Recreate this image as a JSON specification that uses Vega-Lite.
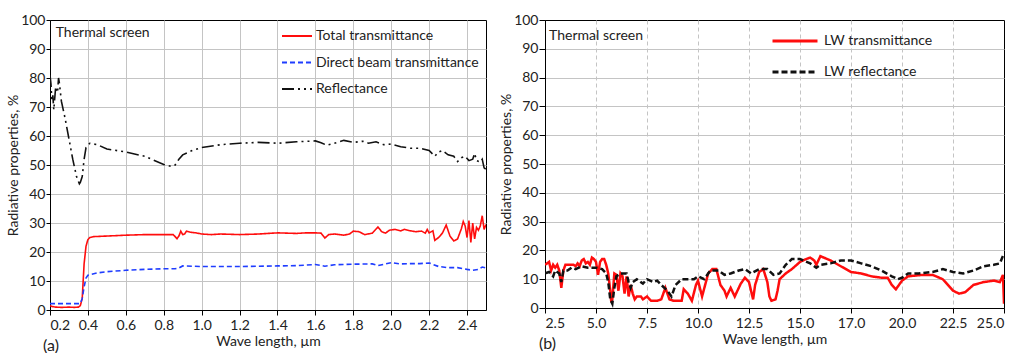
{
"$schema": "https://vega.github.io/schema/vega-lite/v6.json",
"background": "white",
"padding": {"left": 6, "top": 12, "right": 0, "bottom": 0},
"spacing": 12,
"resolve": {"scale": {"color": "independent", "strokeDash": "independent"}, "legend": {"color": "independent", "strokeDash": "independent"}},
"config": {
  "font": "Lato",
  "view": {"stroke": "black", "strokeWidth": 1},
  "axis": {"labelFont": "Lato", "labelFontSize": 14, "labelColor": "#222", "titleFont": "Lato", "titleFontSize": 14, "titleFontWeight": "normal", "titleColor": "#222", "domainColor": "black", "tickColor": "black", "tickSize": 4, "gridColor": "#c4c4c4", "gridWidth": 1, "labelPadding": 3, "tickCount": 30},
  "title": {"font": "Lato", "fontSize": 16, "fontWeight": "normal", "color": "#222"}
},
"datasets": {
 "vis": [
  {"wl":0.2,"pct":1.5,"series":"Total transmittance"},{"wl":0.21,"pct":1.2,"series":"Total transmittance"},{"wl":0.23,"pct":1.0,"series":"Total transmittance"},{"wl":0.26,"pct":0.9,"series":"Total transmittance"},{"wl":0.3,"pct":1.0,"series":"Total transmittance"},{"wl":0.33,"pct":0.9,"series":"Total transmittance"},{"wl":0.35,"pct":1.0,"series":"Total transmittance"},{"wl":0.36,"pct":1.5,"series":"Total transmittance"},{"wl":0.37,"pct":4,"series":"Total transmittance"},{"wl":0.375,"pct":10,"series":"Total transmittance"},{"wl":0.38,"pct":16,"series":"Total transmittance"},{"wl":0.39,"pct":22,"series":"Total transmittance"},{"wl":0.4,"pct":24.3,"series":"Total transmittance"},{"wl":0.41,"pct":25,"series":"Total transmittance"},{"wl":0.43,"pct":25.3,"series":"Total transmittance"},{"wl":0.5,"pct":25.5,"series":"Total transmittance"},{"wl":0.6,"pct":25.8,"series":"Total transmittance"},{"wl":0.7,"pct":26,"series":"Total transmittance"},{"wl":0.8,"pct":26,"series":"Total transmittance"},{"wl":0.85,"pct":26,"series":"Total transmittance"},{"wl":0.87,"pct":24.6,"series":"Total transmittance"},{"wl":0.88,"pct":25.5,"series":"Total transmittance"},{"wl":0.89,"pct":27.2,"series":"Total transmittance"},{"wl":0.9,"pct":26,"series":"Total transmittance"},{"wl":0.91,"pct":26.2,"series":"Total transmittance"},{"wl":0.92,"pct":27.2,"series":"Total transmittance"},{"wl":0.94,"pct":26.8,"series":"Total transmittance"},{"wl":0.97,"pct":26.6,"series":"Total transmittance"},{"wl":1.0,"pct":26.2,"series":"Total transmittance"},{"wl":1.05,"pct":26,"series":"Total transmittance"},{"wl":1.1,"pct":26.2,"series":"Total transmittance"},{"wl":1.2,"pct":26,"series":"Total transmittance"},{"wl":1.3,"pct":26.2,"series":"Total transmittance"},{"wl":1.4,"pct":26.6,"series":"Total transmittance"},{"wl":1.5,"pct":26.4,"series":"Total transmittance"},{"wl":1.55,"pct":26.6,"series":"Total transmittance"},{"wl":1.6,"pct":26.6,"series":"Total transmittance"},{"wl":1.63,"pct":26.5,"series":"Total transmittance"},{"wl":1.65,"pct":24.8,"series":"Total transmittance"},{"wl":1.67,"pct":26,"series":"Total transmittance"},{"wl":1.7,"pct":26.2,"series":"Total transmittance"},{"wl":1.75,"pct":25.8,"series":"Total transmittance"},{"wl":1.78,"pct":26.2,"series":"Total transmittance"},{"wl":1.8,"pct":27.2,"series":"Total transmittance"},{"wl":1.83,"pct":27,"series":"Total transmittance"},{"wl":1.86,"pct":26,"series":"Total transmittance"},{"wl":1.9,"pct":26.5,"series":"Total transmittance"},{"wl":1.93,"pct":28.6,"series":"Total transmittance"},{"wl":1.95,"pct":27,"series":"Total transmittance"},{"wl":1.97,"pct":26.5,"series":"Total transmittance"},{"wl":1.99,"pct":27.5,"series":"Total transmittance"},{"wl":2.02,"pct":27.8,"series":"Total transmittance"},{"wl":2.05,"pct":27.3,"series":"Total transmittance"},{"wl":2.07,"pct":27.8,"series":"Total transmittance"},{"wl":2.1,"pct":27.3,"series":"Total transmittance"},{"wl":2.13,"pct":27,"series":"Total transmittance"},{"wl":2.16,"pct":27.2,"series":"Total transmittance"},{"wl":2.18,"pct":26.5,"series":"Total transmittance"},{"wl":2.19,"pct":27.8,"series":"Total transmittance"},{"wl":2.2,"pct":26.6,"series":"Total transmittance"},{"wl":2.22,"pct":27.3,"series":"Total transmittance"},{"wl":2.23,"pct":24,"series":"Total transmittance"},{"wl":2.25,"pct":25,"series":"Total transmittance"},{"wl":2.27,"pct":26.5,"series":"Total transmittance"},{"wl":2.29,"pct":29.3,"series":"Total transmittance"},{"wl":2.31,"pct":25.5,"series":"Total transmittance"},{"wl":2.33,"pct":23.8,"series":"Total transmittance"},{"wl":2.35,"pct":24.5,"series":"Total transmittance"},{"wl":2.37,"pct":28,"series":"Total transmittance"},{"wl":2.38,"pct":30.5,"series":"Total transmittance"},{"wl":2.39,"pct":29,"series":"Total transmittance"},{"wl":2.4,"pct":25,"series":"Total transmittance"},{"wl":2.41,"pct":30.8,"series":"Total transmittance"},{"wl":2.42,"pct":23.3,"series":"Total transmittance"},{"wl":2.43,"pct":30,"series":"Total transmittance"},{"wl":2.44,"pct":24.5,"series":"Total transmittance"},{"wl":2.45,"pct":28.5,"series":"Total transmittance"},{"wl":2.46,"pct":27.5,"series":"Total transmittance"},{"wl":2.47,"pct":29,"series":"Total transmittance"},{"wl":2.48,"pct":32.5,"series":"Total transmittance"},{"wl":2.49,"pct":27.8,"series":"Total transmittance"},{"wl":2.5,"pct":29.5,"series":"Total transmittance"},
  {"wl":0.2,"pct":2.2,"series":"Direct beam transmittance"},{"wl":0.3,"pct":2.2,"series":"Direct beam transmittance"},{"wl":0.36,"pct":2.2,"series":"Direct beam transmittance"},{"wl":0.37,"pct":4,"series":"Direct beam transmittance"},{"wl":0.38,"pct":8,"series":"Direct beam transmittance"},{"wl":0.39,"pct":11,"series":"Direct beam transmittance"},{"wl":0.4,"pct":12,"series":"Direct beam transmittance"},{"wl":0.45,"pct":12.8,"series":"Direct beam transmittance"},{"wl":0.5,"pct":13.2,"series":"Direct beam transmittance"},{"wl":0.6,"pct":13.7,"series":"Direct beam transmittance"},{"wl":0.7,"pct":14,"series":"Direct beam transmittance"},{"wl":0.8,"pct":14.2,"series":"Direct beam transmittance"},{"wl":0.86,"pct":14.2,"series":"Direct beam transmittance"},{"wl":0.88,"pct":14.5,"series":"Direct beam transmittance"},{"wl":0.9,"pct":15.2,"series":"Direct beam transmittance"},{"wl":1.0,"pct":15,"series":"Direct beam transmittance"},{"wl":1.2,"pct":15,"series":"Direct beam transmittance"},{"wl":1.4,"pct":15.2,"series":"Direct beam transmittance"},{"wl":1.5,"pct":15.3,"series":"Direct beam transmittance"},{"wl":1.6,"pct":15.7,"series":"Direct beam transmittance"},{"wl":1.65,"pct":15.1,"series":"Direct beam transmittance"},{"wl":1.7,"pct":15.6,"series":"Direct beam transmittance"},{"wl":1.8,"pct":15.8,"series":"Direct beam transmittance"},{"wl":1.9,"pct":15.9,"series":"Direct beam transmittance"},{"wl":1.93,"pct":15.3,"series":"Direct beam transmittance"},{"wl":1.97,"pct":15.9,"series":"Direct beam transmittance"},{"wl":2.0,"pct":16.3,"series":"Direct beam transmittance"},{"wl":2.05,"pct":15.9,"series":"Direct beam transmittance"},{"wl":2.1,"pct":16,"series":"Direct beam transmittance"},{"wl":2.15,"pct":16,"series":"Direct beam transmittance"},{"wl":2.2,"pct":16.2,"series":"Direct beam transmittance"},{"wl":2.25,"pct":15,"series":"Direct beam transmittance"},{"wl":2.3,"pct":14.6,"series":"Direct beam transmittance"},{"wl":2.35,"pct":14.6,"series":"Direct beam transmittance"},{"wl":2.4,"pct":14,"series":"Direct beam transmittance"},{"wl":2.43,"pct":13.7,"series":"Direct beam transmittance"},{"wl":2.46,"pct":14,"series":"Direct beam transmittance"},{"wl":2.48,"pct":14.8,"series":"Direct beam transmittance"},{"wl":2.5,"pct":14.5,"series":"Direct beam transmittance"},
  {"wl":0.2,"pct":81,"series":"Reflectance"},{"wl":0.205,"pct":78,"series":"Reflectance"},{"wl":0.21,"pct":72,"series":"Reflectance"},{"wl":0.215,"pct":74,"series":"Reflectance"},{"wl":0.22,"pct":69,"series":"Reflectance"},{"wl":0.225,"pct":73,"series":"Reflectance"},{"wl":0.23,"pct":77,"series":"Reflectance"},{"wl":0.24,"pct":75,"series":"Reflectance"},{"wl":0.245,"pct":80,"series":"Reflectance"},{"wl":0.25,"pct":78,"series":"Reflectance"},{"wl":0.26,"pct":72,"series":"Reflectance"},{"wl":0.28,"pct":66,"series":"Reflectance"},{"wl":0.3,"pct":59,"series":"Reflectance"},{"wl":0.32,"pct":52,"series":"Reflectance"},{"wl":0.34,"pct":46,"series":"Reflectance"},{"wl":0.355,"pct":43.5,"series":"Reflectance"},{"wl":0.36,"pct":44,"series":"Reflectance"},{"wl":0.37,"pct":46,"series":"Reflectance"},{"wl":0.38,"pct":52,"series":"Reflectance"},{"wl":0.39,"pct":56,"series":"Reflectance"},{"wl":0.41,"pct":57.5,"series":"Reflectance"},{"wl":0.45,"pct":57,"series":"Reflectance"},{"wl":0.5,"pct":55.5,"series":"Reflectance"},{"wl":0.6,"pct":54.5,"series":"Reflectance"},{"wl":0.7,"pct":53,"series":"Reflectance"},{"wl":0.8,"pct":50.2,"series":"Reflectance"},{"wl":0.84,"pct":49.5,"series":"Reflectance"},{"wl":0.86,"pct":50,"series":"Reflectance"},{"wl":0.88,"pct":52,"series":"Reflectance"},{"wl":0.9,"pct":53.5,"series":"Reflectance"},{"wl":0.95,"pct":55,"series":"Reflectance"},{"wl":1.0,"pct":56,"series":"Reflectance"},{"wl":1.1,"pct":57,"series":"Reflectance"},{"wl":1.2,"pct":57.5,"series":"Reflectance"},{"wl":1.3,"pct":57.8,"series":"Reflectance"},{"wl":1.4,"pct":57.5,"series":"Reflectance"},{"wl":1.5,"pct":58,"series":"Reflectance"},{"wl":1.6,"pct":58.3,"series":"Reflectance"},{"wl":1.63,"pct":57.7,"series":"Reflectance"},{"wl":1.66,"pct":56.8,"series":"Reflectance"},{"wl":1.7,"pct":57.5,"series":"Reflectance"},{"wl":1.75,"pct":58.5,"series":"Reflectance"},{"wl":1.8,"pct":57.8,"series":"Reflectance"},{"wl":1.85,"pct":58.2,"series":"Reflectance"},{"wl":1.88,"pct":57.5,"series":"Reflectance"},{"wl":1.92,"pct":58,"series":"Reflectance"},{"wl":1.96,"pct":57,"series":"Reflectance"},{"wl":2.0,"pct":57.2,"series":"Reflectance"},{"wl":2.05,"pct":56.3,"series":"Reflectance"},{"wl":2.1,"pct":55.8,"series":"Reflectance"},{"wl":2.15,"pct":55.8,"series":"Reflectance"},{"wl":2.2,"pct":55,"series":"Reflectance"},{"wl":2.23,"pct":53,"series":"Reflectance"},{"wl":2.25,"pct":54.5,"series":"Reflectance"},{"wl":2.27,"pct":55,"series":"Reflectance"},{"wl":2.3,"pct":53.5,"series":"Reflectance"},{"wl":2.33,"pct":53,"series":"Reflectance"},{"wl":2.35,"pct":51.2,"series":"Reflectance"},{"wl":2.37,"pct":52.5,"series":"Reflectance"},{"wl":2.39,"pct":53,"series":"Reflectance"},{"wl":2.41,"pct":51.5,"series":"Reflectance"},{"wl":2.43,"pct":52,"series":"Reflectance"},{"wl":2.44,"pct":54,"series":"Reflectance"},{"wl":2.45,"pct":51.5,"series":"Reflectance"},{"wl":2.47,"pct":51,"series":"Reflectance"},{"wl":2.48,"pct":52,"series":"Reflectance"},{"wl":2.49,"pct":49,"series":"Reflectance"},{"wl":2.5,"pct":48.5,"series":"Reflectance"}
 ],
 "lw": [
  {"wl":2.5,"pct":15,"series":"LW transmittance"},{"wl":2.6,"pct":15.5,"series":"LW transmittance"},{"wl":2.7,"pct":16,"series":"LW transmittance"},{"wl":2.8,"pct":13,"series":"LW transmittance"},{"wl":2.9,"pct":15,"series":"LW transmittance"},{"wl":3.0,"pct":14,"series":"LW transmittance"},{"wl":3.1,"pct":15,"series":"LW transmittance"},{"wl":3.2,"pct":13,"series":"LW transmittance"},{"wl":3.3,"pct":7,"series":"LW transmittance"},{"wl":3.4,"pct":13,"series":"LW transmittance"},{"wl":3.5,"pct":15,"series":"LW transmittance"},{"wl":3.7,"pct":15,"series":"LW transmittance"},{"wl":3.9,"pct":15,"series":"LW transmittance"},{"wl":4.0,"pct":14.5,"series":"LW transmittance"},{"wl":4.1,"pct":15.5,"series":"LW transmittance"},{"wl":4.2,"pct":14.5,"series":"LW transmittance"},{"wl":4.3,"pct":16.5,"series":"LW transmittance"},{"wl":4.4,"pct":17,"series":"LW transmittance"},{"wl":4.5,"pct":15.5,"series":"LW transmittance"},{"wl":4.6,"pct":16,"series":"LW transmittance"},{"wl":4.7,"pct":15,"series":"LW transmittance"},{"wl":4.8,"pct":17.5,"series":"LW transmittance"},{"wl":4.9,"pct":17,"series":"LW transmittance"},{"wl":5.0,"pct":16,"series":"LW transmittance"},{"wl":5.1,"pct":11.5,"series":"LW transmittance"},{"wl":5.2,"pct":16,"series":"LW transmittance"},{"wl":5.3,"pct":17,"series":"LW transmittance"},{"wl":5.4,"pct":17,"series":"LW transmittance"},{"wl":5.5,"pct":15,"series":"LW transmittance"},{"wl":5.6,"pct":12,"series":"LW transmittance"},{"wl":5.7,"pct":6,"series":"LW transmittance"},{"wl":5.75,"pct":2,"series":"LW transmittance"},{"wl":5.8,"pct":3,"series":"LW transmittance"},{"wl":5.9,"pct":12,"series":"LW transmittance"},{"wl":6.0,"pct":11.5,"series":"LW transmittance"},{"wl":6.1,"pct":6,"series":"LW transmittance"},{"wl":6.2,"pct":12,"series":"LW transmittance"},{"wl":6.3,"pct":11,"series":"LW transmittance"},{"wl":6.4,"pct":5,"series":"LW transmittance"},{"wl":6.5,"pct":11,"series":"LW transmittance"},{"wl":6.6,"pct":4,"series":"LW transmittance"},{"wl":6.7,"pct":8,"series":"LW transmittance"},{"wl":6.8,"pct":5,"series":"LW transmittance"},{"wl":6.9,"pct":3,"series":"LW transmittance"},{"wl":7.0,"pct":4,"series":"LW transmittance"},{"wl":7.2,"pct":4,"series":"LW transmittance"},{"wl":7.3,"pct":3,"series":"LW transmittance"},{"wl":7.5,"pct":4,"series":"LW transmittance"},{"wl":7.7,"pct":2.5,"series":"LW transmittance"},{"wl":8.0,"pct":2.5,"series":"LW transmittance"},{"wl":8.2,"pct":3,"series":"LW transmittance"},{"wl":8.4,"pct":7,"series":"LW transmittance"},{"wl":8.6,"pct":3,"series":"LW transmittance"},{"wl":8.8,"pct":2.5,"series":"LW transmittance"},{"wl":9.2,"pct":2.5,"series":"LW transmittance"},{"wl":9.3,"pct":6.5,"series":"LW transmittance"},{"wl":9.5,"pct":5,"series":"LW transmittance"},{"wl":9.7,"pct":2.5,"series":"LW transmittance"},{"wl":9.9,"pct":8,"series":"LW transmittance"},{"wl":10.0,"pct":9.5,"series":"LW transmittance"},{"wl":10.2,"pct":4,"series":"LW transmittance"},{"wl":10.5,"pct":12,"series":"LW transmittance"},{"wl":10.7,"pct":13.5,"series":"LW transmittance"},{"wl":10.9,"pct":13.5,"series":"LW transmittance"},{"wl":11.1,"pct":8,"series":"LW transmittance"},{"wl":11.3,"pct":6,"series":"LW transmittance"},{"wl":11.4,"pct":4,"series":"LW transmittance"},{"wl":11.6,"pct":7,"series":"LW transmittance"},{"wl":11.8,"pct":4,"series":"LW transmittance"},{"wl":12.1,"pct":8.5,"series":"LW transmittance"},{"wl":12.3,"pct":10.5,"series":"LW transmittance"},{"wl":12.5,"pct":9,"series":"LW transmittance"},{"wl":12.6,"pct":6,"series":"LW transmittance"},{"wl":12.7,"pct":3,"series":"LW transmittance"},{"wl":12.8,"pct":8,"series":"LW transmittance"},{"wl":13.0,"pct":12.5,"series":"LW transmittance"},{"wl":13.2,"pct":13.5,"series":"LW transmittance"},{"wl":13.4,"pct":9,"series":"LW transmittance"},{"wl":13.5,"pct":4,"series":"LW transmittance"},{"wl":13.6,"pct":2.5,"series":"LW transmittance"},{"wl":13.8,"pct":3,"series":"LW transmittance"},{"wl":13.9,"pct":6,"series":"LW transmittance"},{"wl":14.0,"pct":10,"series":"LW transmittance"},{"wl":14.3,"pct":12,"series":"LW transmittance"},{"wl":14.6,"pct":13.5,"series":"LW transmittance"},{"wl":15.0,"pct":16,"series":"LW transmittance"},{"wl":15.3,"pct":17,"series":"LW transmittance"},{"wl":15.5,"pct":17.5,"series":"LW transmittance"},{"wl":15.7,"pct":16.5,"series":"LW transmittance"},{"wl":15.8,"pct":15,"series":"LW transmittance"},{"wl":16.0,"pct":18,"series":"LW transmittance"},{"wl":16.5,"pct":16.5,"series":"LW transmittance"},{"wl":17.0,"pct":14.5,"series":"LW transmittance"},{"wl":17.5,"pct":12.5,"series":"LW transmittance"},{"wl":18.0,"pct":12,"series":"LW transmittance"},{"wl":18.5,"pct":11,"series":"LW transmittance"},{"wl":19.0,"pct":10.5,"series":"LW transmittance"},{"wl":19.3,"pct":10.5,"series":"LW transmittance"},{"wl":19.5,"pct":8,"series":"LW transmittance"},{"wl":19.7,"pct":6.5,"series":"LW transmittance"},{"wl":20.0,"pct":9.5,"series":"LW transmittance"},{"wl":20.3,"pct":11,"series":"LW transmittance"},{"wl":21.0,"pct":11.5,"series":"LW transmittance"},{"wl":21.5,"pct":11.5,"series":"LW transmittance"},{"wl":22.0,"pct":10,"series":"LW transmittance"},{"wl":22.5,"pct":6,"series":"LW transmittance"},{"wl":22.8,"pct":5,"series":"LW transmittance"},{"wl":23.1,"pct":5.5,"series":"LW transmittance"},{"wl":23.5,"pct":8,"series":"LW transmittance"},{"wl":24.0,"pct":9,"series":"LW transmittance"},{"wl":24.5,"pct":9.5,"series":"LW transmittance"},{"wl":24.8,"pct":9,"series":"LW transmittance"},{"wl":24.95,"pct":11.5,"series":"LW transmittance"},{"wl":25.0,"pct":1.5,"series":"LW transmittance"},
  {"wl":2.5,"pct":12,"series":"LW reflectance"},{"wl":2.7,"pct":12.5,"series":"LW reflectance"},{"wl":2.9,"pct":11,"series":"LW reflectance"},{"wl":3.0,"pct":13,"series":"LW reflectance"},{"wl":3.2,"pct":12,"series":"LW reflectance"},{"wl":3.3,"pct":9,"series":"LW reflectance"},{"wl":3.4,"pct":13,"series":"LW reflectance"},{"wl":3.6,"pct":13,"series":"LW reflectance"},{"wl":3.8,"pct":14,"series":"LW reflectance"},{"wl":4.0,"pct":13.5,"series":"LW reflectance"},{"wl":4.3,"pct":14.5,"series":"LW reflectance"},{"wl":4.6,"pct":14,"series":"LW reflectance"},{"wl":5.0,"pct":14,"series":"LW reflectance"},{"wl":5.3,"pct":13.5,"series":"LW reflectance"},{"wl":5.5,"pct":12,"series":"LW reflectance"},{"wl":5.6,"pct":9,"series":"LW reflectance"},{"wl":5.7,"pct":3,"series":"LW reflectance"},{"wl":5.8,"pct":1.5,"series":"LW reflectance"},{"wl":5.9,"pct":7,"series":"LW reflectance"},{"wl":6.0,"pct":11,"series":"LW reflectance"},{"wl":6.2,"pct":12,"series":"LW reflectance"},{"wl":6.5,"pct":12,"series":"LW reflectance"},{"wl":6.6,"pct":9,"series":"LW reflectance"},{"wl":6.7,"pct":7,"series":"LW reflectance"},{"wl":6.8,"pct":9,"series":"LW reflectance"},{"wl":7.0,"pct":10,"series":"LW reflectance"},{"wl":7.3,"pct":8.5,"series":"LW reflectance"},{"wl":7.5,"pct":10,"series":"LW reflectance"},{"wl":7.8,"pct":9,"series":"LW reflectance"},{"wl":8.0,"pct":9.5,"series":"LW reflectance"},{"wl":8.2,"pct":8,"series":"LW reflectance"},{"wl":8.5,"pct":6,"series":"LW reflectance"},{"wl":8.7,"pct":4,"series":"LW reflectance"},{"wl":8.9,"pct":8,"series":"LW reflectance"},{"wl":9.2,"pct":10,"series":"LW reflectance"},{"wl":9.5,"pct":10,"series":"LW reflectance"},{"wl":9.8,"pct":10,"series":"LW reflectance"},{"wl":10.0,"pct":11,"series":"LW reflectance"},{"wl":10.3,"pct":10,"series":"LW reflectance"},{"wl":10.6,"pct":13,"series":"LW reflectance"},{"wl":11.0,"pct":13,"series":"LW reflectance"},{"wl":11.3,"pct":11.5,"series":"LW reflectance"},{"wl":11.6,"pct":12,"series":"LW reflectance"},{"wl":12.0,"pct":13,"series":"LW reflectance"},{"wl":12.3,"pct":13.5,"series":"LW reflectance"},{"wl":12.6,"pct":12,"series":"LW reflectance"},{"wl":13.0,"pct":13.5,"series":"LW reflectance"},{"wl":13.4,"pct":13.5,"series":"LW reflectance"},{"wl":13.7,"pct":11.5,"series":"LW reflectance"},{"wl":14.0,"pct":12,"series":"LW reflectance"},{"wl":14.3,"pct":15,"series":"LW reflectance"},{"wl":14.6,"pct":17,"series":"LW reflectance"},{"wl":15.0,"pct":17,"series":"LW reflectance"},{"wl":15.5,"pct":15.5,"series":"LW reflectance"},{"wl":15.8,"pct":14,"series":"LW reflectance"},{"wl":16.0,"pct":15,"series":"LW reflectance"},{"wl":16.5,"pct":15.5,"series":"LW reflectance"},{"wl":17.0,"pct":16.5,"series":"LW reflectance"},{"wl":17.5,"pct":16.5,"series":"LW reflectance"},{"wl":18.0,"pct":15.5,"series":"LW reflectance"},{"wl":18.5,"pct":14.5,"series":"LW reflectance"},{"wl":19.0,"pct":13,"series":"LW reflectance"},{"wl":19.5,"pct":11,"series":"LW reflectance"},{"wl":19.8,"pct":10,"series":"LW reflectance"},{"wl":20.0,"pct":10.5,"series":"LW reflectance"},{"wl":20.3,"pct":12,"series":"LW reflectance"},{"wl":20.8,"pct":12,"series":"LW reflectance"},{"wl":21.5,"pct":12.5,"series":"LW reflectance"},{"wl":22.0,"pct":13.5,"series":"LW reflectance"},{"wl":22.5,"pct":12.5,"series":"LW reflectance"},{"wl":23.0,"pct":12,"series":"LW reflectance"},{"wl":23.5,"pct":13,"series":"LW reflectance"},{"wl":24.0,"pct":14.5,"series":"LW reflectance"},{"wl":24.5,"pct":15,"series":"LW reflectance"},{"wl":24.8,"pct":15.5,"series":"LW reflectance"},{"wl":25.0,"pct":19,"series":"LW reflectance"}
 ]
},
"hconcat": [
 {
  "width": 436, "height": 290,
  "title": {"text": "(a)", "orient": "bottom", "anchor": "start", "frame": "group", "dx": -7, "offset": -10},
  "layer": [
   {
    "data": {"name": "vis"},
    "mark": {"type": "line", "strokeWidth": 1.6, "clip": true},
    "encoding": {
     "x": {"field": "wl", "type": "quantitative", "scale": {"domain": [0.2, 2.5], "nice": false, "zero": false},
           "axis": {"title": "Wave length, µm", "values": [0.2,0.4,0.6,0.8,1.0,1.2,1.4,1.6,1.8,2.0,2.2,2.4], "format": ".1f", "titlePadding": 2, "tickSize": 5,
                    "gridOpacity": {"condition": {"test": "datum.value < 0.3", "value": 0}, "value": 1}}},
     "y": {"field": "pct", "type": "quantitative", "scale": {"domain": [0, 100], "nice": false},
           "axis": {"title": "Radiative properties, %", "values": [0,10,20,30,40,50,60,70,80,90,100], "titlePadding": 0, "labelPadding": 1,
                    "gridOpacity": {"condition": {"test": "datum.value < 1 || datum.value > 99", "value": 0}, "value": 1}}},
     "color": {"field": "series", "type": "nominal",
       "scale": {"domain": ["Total transmittance", "Direct beam transmittance", "Reflectance"], "range": ["#ff0d0d", "#1f3dff", "#111111"]},
       "legend": {"title": null, "orient": "none", "legendX": 231, "legendY": 0, "symbolType": "stroke", "symbolSize": 900, "symbolStrokeWidth": 2, "labelFontSize": 14, "labelFont": "Lato", "labelColor": "#222", "rowPadding": 3.5, "labelOffset": 3, "labelLimit": 400}},
     "strokeDash": {"field": "series", "type": "nominal",
       "scale": {"domain": ["Total transmittance", "Direct beam transmittance", "Reflectance"], "range": [[1, 0], [5, 3], [12, 4, 2, 4, 2, 4]]},
       "legend": {"title": null, "orient": "none", "legendX": 231, "legendY": 0, "symbolType": "stroke", "symbolSize": 900, "symbolStrokeWidth": 2, "labelFontSize": 14, "labelFont": "Lato", "labelColor": "#222", "rowPadding": 3.5, "labelOffset": 3, "labelLimit": 400}}
    }
   },
   {
    "data": {"values": [{}]},
    "mark": {"type": "text", "align": "left", "baseline": "middle", "fontSize": 14, "font": "Lato", "color": "#222"},
    "encoding": {"x": {"datum": 0.23, "type": "quantitative"}, "y": {"datum": 95.5, "type": "quantitative"}, "text": {"value": "Thermal screen"}}
   }
  ]
 },
 {
  "width": 459, "height": 288,
  "title": {"text": "(b)", "orient": "bottom", "anchor": "start", "frame": "group", "dx": -6, "offset": -10},
  "layer": [
   {
    "data": {"name": "lw"},
    "mark": {"type": "line", "strokeWidth": 2.5, "clip": true},
    "encoding": {
     "x": {"field": "wl", "type": "quantitative", "scale": {"domain": [2.5, 25], "nice": false, "zero": false},
           "axis": {"title": "Wave length, µm", "values": [2.5,5,7.5,10,12.5,15,17.5,20,22.5,25], "labelExpr": "datum.value == 17.5 ? '17.0' : format(datum.value, '.1f')", "gridDash": [4, 3], "titlePadding": 2, "tickSize": 5,
                    "gridOpacity": {"condition": {"test": "datum.value < 3 || datum.value > 24", "value": 0}, "value": 1}}},
     "y": {"field": "pct", "type": "quantitative", "scale": {"domain": [0, 100], "nice": false},
           "axis": {"title": "Radiative properties, %", "values": [0,10,20,30,40,50,60,70,80,90,100], "titlePadding": 0, "labelPadding": 1, "tickSize": 6,
                    "gridOpacity": {"condition": {"test": "datum.value < 1 || datum.value > 99", "value": 0}, "value": 1}}},
     "color": {"field": "series", "type": "nominal",
       "scale": {"domain": ["LW transmittance", "LW reflectance"], "range": ["#ff0d0d", "#111111"]},
       "legend": {"title": null, "orient": "none", "legendX": 226, "legendY": -3, "symbolType": "stroke", "symbolSize": 2025, "symbolStrokeWidth": 3, "labelFontSize": 14, "labelFont": "Lato", "labelColor": "#222", "rowPadding": 0, "labelOffset": 5}},
     "strokeDash": {"field": "series", "type": "nominal",
       "scale": {"domain": ["LW transmittance", "LW reflectance"], "range": [[1, 0], [6, 3]]},
       "legend": {"title": null, "orient": "none", "legendX": 226, "legendY": -3, "symbolType": "stroke", "symbolSize": 2025, "symbolStrokeWidth": 3, "labelFontSize": 14, "labelFont": "Lato", "labelColor": "#222", "rowPadding": 0, "labelOffset": 5}}
    }
   },
   {
    "data": {"values": [{}]},
    "mark": {"type": "text", "align": "left", "baseline": "middle", "fontSize": 14, "font": "Lato", "color": "#222"},
    "encoding": {"x": {"datum": 2.7, "type": "quantitative"}, "y": {"datum": 94.4, "type": "quantitative"}, "text": {"value": "Thermal screen"}}
   }
  ]
 }
]
}
